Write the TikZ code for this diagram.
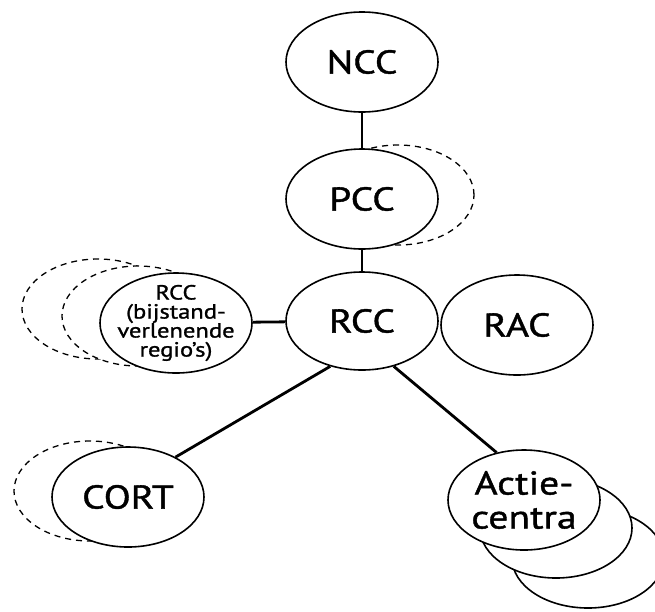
\documentclass[tikz,border=0pt]{standalone}
\usepackage{fontspec}
\setmainfont{PT Sans}[FakeStretch=1.2, FakeBold=1.2]
\usetikzlibrary{shapes.geometric}
\tikzset{
  org/.style={ellipse, draw=black, line width=1.6pt, fill=white, minimum width=152pt, minimum height=100pt, inner sep=0pt, align=center, font=\fontsize{33}{34}\selectfont},
  ghost/.style={org, dashed, dash pattern=on 6pt off 5pt, line width=1.3pt},
  link/.style={line width=2.8pt}
}
\begin{document}
\begin{tikzpicture}[x=1pt,y=-1pt]
\useasboundingbox (0,0) rectangle (655,611);
% dashed shadows
\node[ghost] (pccg) at (398,195) {};
\node[ghost] (bg2) at (98,309) {};
\node[ghost] (bg1) at (138,316) {};
\node[ghost] (cortg) at (90,491) {};
% action centres stack
\node[org] (ac3) at (588,558) {};
\node[org] (ac2) at (556,528) {};
% main nodes
\node[org] (ncc) at (362,62) {NCC};
\node[org] (pcc) at (362,199) {PCC};
\node[org, minimum height=98pt] (rcc) at (362,321) {RCC};
\node[org] (rac) at (517,325) {RAC};
\node[org, inner xsep=-8pt, inner ysep=-16pt, font=\fontsize{20.5}{19}\selectfont] (bij) at (176,323) {RCC\\(bijstand-\\verlenende\\regio's)};
\node[org] (cort) at (128,497) {CORT};
\node[org] (ac1) at (524,500) {Actie-\\centra};
% connectors
\draw[link] (ncc) -- (pcc);
\draw[link] (pcc) -- (rcc);
\draw[link] (bij) -- (rcc);
\draw[link] (rcc.235) -- (cort.40);
\draw[link] (rcc.305) -- (ac1.120);
\end{tikzpicture}
\end{document}
